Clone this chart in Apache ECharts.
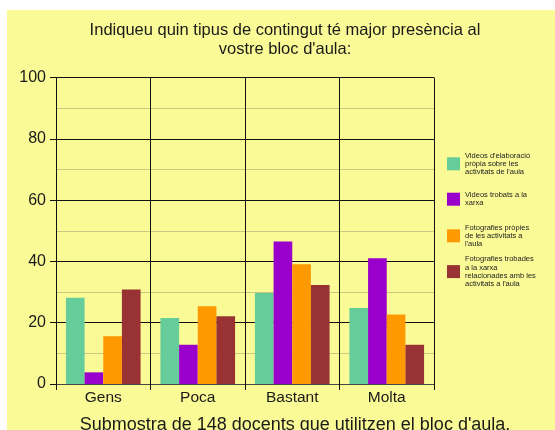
<!DOCTYPE html>
<html>
<head>
<meta charset="utf-8">
<script src="https://cdn.jsdelivr.net/npm/echarts@6/dist/echarts.min.js"></script>
<style>
  html, body { margin: 0; padding: 0; background: #ffffff; }
  #chart { position: absolute; left: 7px; top: 10px; width: 548px; height: 420px; background: #fafa96; }
</style>
</head>
<body>
<div id="chart"></div>
<script>
// Survey answers: how present each kind of content is in the classroom blog
const categories = ['Gens', 'Poca', 'Bastant', 'Molta'];

const videosPropis = [28.1, 21.5, 29.7, 24.8];
const videosXarxa = [3.8, 12.8, 46.5, 41.0];
const fotosPropies = [15.6, 25.4, 39.1, 22.7];
const fotosXarxa = [30.8, 22.1, 32.3, 12.8];

const seriesNames = [
  "Videos d'elaboració\npròpia sobre les\nactivitats de l'aula",
  "Videos trobats a la\nxarxa",
  "Fotografies pròpies\nde les activitats a\nl'aula",
  "Fotografies trobades\na la xarxa\nrelacionades amb les\nactivitats a l'aula"
];
const seriesColors = ['#66cc99', '#9900cc', '#ff9900', '#993333'];
const seriesData = [videosPropis, videosXarxa, fotosPropies, fotosXarxa];

const yTicks = [0, 20, 40, 60, 80, 100];

const titleText = "Indiqueu quin tipus de contingut té major presència al\nvostre bloc d'aula:";
const footText = "Submostra de 148 docents que utilitzen el bloc d'aula.";

const FONT = '"Liberation Sans", Arial, sans-serif';
const chart = echarts.init(document.getElementById('chart'));

// One legend block per series so each icon lines up with the first text line
const LINE_H = 8.2;
const legendTops = [131.2, 174.8, 203.2, 230.8];
const legends = seriesNames.map((name, i) => {
  const lines = name.split('\n').length;
  const h = lines * LINE_H;
  return {
    data: [name],
    left: 440,
    top: legendTops[i],
    padding: 0,
    orient: 'vertical',
    itemWidth: 13,
    itemHeight: 13,
    selectedMode: false,
    icon: 'rect',
    textStyle: {
      fontFamily: FONT,
      fontSize: 7.5,
      lineHeight: LINE_H,
      color: '#222',
      padding: [h - 4, 0, 0, 0]
    }
  };
});

chart.setOption({
  backgroundColor: 'transparent',
  animation: false,
  title: [
    {
      text: titleText,
      left: 278,
      top: 10.5,
      padding: 0,
      textAlign: 'center',
      textStyle: { fontFamily: FONT, fontSize: 16.5, fontWeight: 'normal', color: '#1a1a1a', lineHeight: 19 }
    },
    {
      text: footText,
      left: 288,
      top: 406,
      padding: 0,
      textAlign: 'center',
      textStyle: { fontFamily: FONT, fontSize: 18, fontWeight: 'normal', color: '#1a1a1a', lineHeight: 18 }
    }
  ],
  legend: legends,
  grid: { left: 49, right: 121, top: 67.5, bottom: 46 },
  xAxis: {
    type: 'category',
    data: categories,
    axisLine: { show: true, lineStyle: { color: '#444', width: 1 } },
    axisTick: { show: true, length: 6, lineStyle: { color: '#111' } },
    axisLabel: { fontFamily: FONT, fontSize: 15.5, color: '#1a1a1a', margin: 6 },
    splitLine: { show: true, lineStyle: { color: '#111', width: 1 } }
  },
  yAxis: {
    type: 'value',
    min: 0,
    max: 100,
    interval: 20,
    axisLine: { show: true, lineStyle: { color: '#111' } },
    axisTick: { show: true, length: 6, lineStyle: { color: '#111' } },
    axisLabel: {
      fontFamily: FONT, fontSize: 16, color: '#1a1a1a', margin: 10,
      formatter: v => (yTicks.includes(v) ? String(v) : '')
    },
    splitLine: { show: true, lineStyle: { color: '#111', width: 1 } },
    minorTick: { show: false, splitNumber: 2 },
    minorSplitLine: { show: true, lineStyle: { color: '#c8c884', width: 1 } }
  },
  series: seriesNames.map((name, i) => ({
    name: name,
    type: 'bar',
    data: seriesData[i],
    barGap: '0%',
    barCategoryGap: '21%',
    itemStyle: { color: seriesColors[i] }
  }))
});
</script>
</body>
</html>
